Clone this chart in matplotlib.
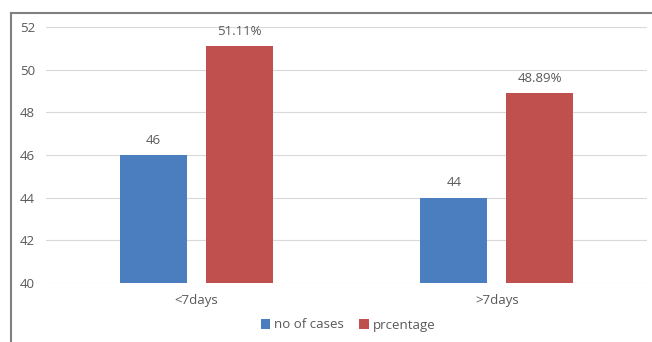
import matplotlib.pyplot as plt
from matplotlib.lines import Line2D
import numpy as np

categories = ["<7days", ">7days"]
no_of_cases = [46, 44]
percentage = [51.11, 48.89]
case_labels = ["46", "44"]
pct_labels = ["51.11%", "48.89%"]

plt.rcParams["font.family"] = ["Open Sans", "DejaVu Sans"]
text_color = "#595959"
blue = "#4A7EBF"
red = "#C0504D"

fig = plt.figure(figsize=(6.52, 3.42), dpi=100)
ax = fig.add_axes([46 / 652, 1 - 283 / 342, 601 / 652, 256 / 342])

x = np.arange(len(categories))
width = 0.223
off = 0.143
b1 = ax.bar(x - off, no_of_cases, width, color=blue, label="no of cases", zorder=3)
b2 = ax.bar(x + off, percentage, width, color=red, label="prcentage", zorder=3)

for rect, lab in zip(b1, case_labels):
    ax.annotate(lab, (rect.get_x() + rect.get_width() / 2, rect.get_height()),
                xytext=(0, 6), textcoords="offset points", ha="center", va="bottom",
                fontsize=9.5, color=text_color)
for rect, lab in zip(b2, pct_labels):
    ax.annotate(lab, (rect.get_x() + rect.get_width() / 2, rect.get_height()),
                xytext=(0, 6), textcoords="offset points", ha="center", va="bottom",
                fontsize=9.5, color=text_color)

ax.set_xlim(-0.5, 1.5)
ax.set_ylim(40, 52)
ax.set_yticks(range(40, 53, 2))
ax.set_xticks(x)
ax.set_xticklabels(categories)
ax.tick_params(axis="both", length=0, labelsize=9.5, colors=text_color)
ax.tick_params(axis="y", pad=8)
ax.tick_params(axis="x", pad=8)
ax.grid(axis="y", color="#D9D9D9", linewidth=0.8, zorder=0)
for s in ax.spines.values():
    s.set_visible(False)

fig.legend(handles=[b1, b2], loc="center", bbox_to_anchor=(348 / 652, 1 - 325 / 342),
           ncol=2, frameon=False, fontsize=9.5, handlelength=0.7, handleheight=0.7,
           handletextpad=0.3, columnspacing=1.2, labelcolor=text_color)

# outer border: left and top edges only
fig.add_artist(Line2D([11 / 652, 11 / 652], [0, 1 - 13 / 342], transform=fig.transFigure,
                      color="#808080", linewidth=1.5))
fig.add_artist(Line2D([11 / 652, 1], [1 - 13 / 342, 1 - 13 / 342], transform=fig.transFigure,
                      color="#808080", linewidth=1.5))

fig.savefig("out.png", dpi=100)
